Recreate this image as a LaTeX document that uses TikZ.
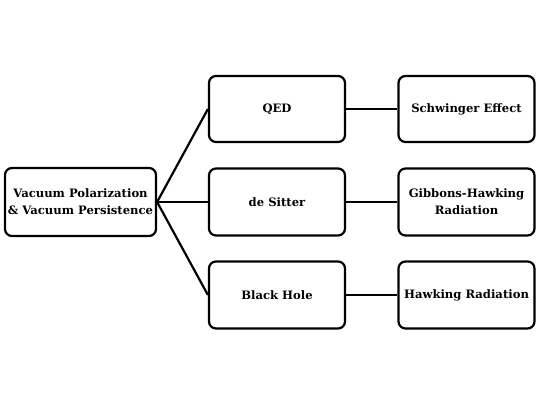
\documentclass[tikz,border=0pt]{standalone}
\usepackage{fontspec}
\setmainfont{DejaVu Serif}
\begin{document}
\begin{tikzpicture}[x=1pt,y=1pt,
  box/.style={draw, line width=2.2pt, rounded corners=7pt, align=center, inner sep=0pt,
    font=\fontsize{11.6}{17}\selectfont\bfseries},
  link/.style={line width=2.2pt}]
\useasboundingbox (0,0) rectangle (545,409);
\node[box, minimum width=151pt, minimum height=68pt] (root) at (80.5,207) {Vacuum Polarization\\\& Vacuum Persistence};
\node[box, minimum width=136pt, minimum height=66pt] (qed) at (277,300) {QED};
\node[box, minimum width=136pt, minimum height=67pt] (ds) at (277,207) {de Sitter};
\node[box, minimum width=136pt, minimum height=67pt] (bh) at (277,114) {Black Hole};
\node[box, minimum width=136pt, minimum height=66pt] (sw) at (466.5,300) {Schwinger Effect};
\node[box, minimum width=136pt, minimum height=67pt] (gh) at (466.5,207) {Gibbons-Hawking\\Radiation};
\node[box, minimum width=136pt, minimum height=67pt] (hr) at (466.5,114) {Hawking Radiation};
\draw[link] (root.east) -- (qed.west);
\draw[link] (root.east) -- (ds.west);
\draw[link] (root.east) -- (bh.west);
\draw[link] (qed) -- (sw);
\draw[link] (ds) -- (gh);
\draw[link] (bh) -- (hr);
\end{tikzpicture}
\end{document}
